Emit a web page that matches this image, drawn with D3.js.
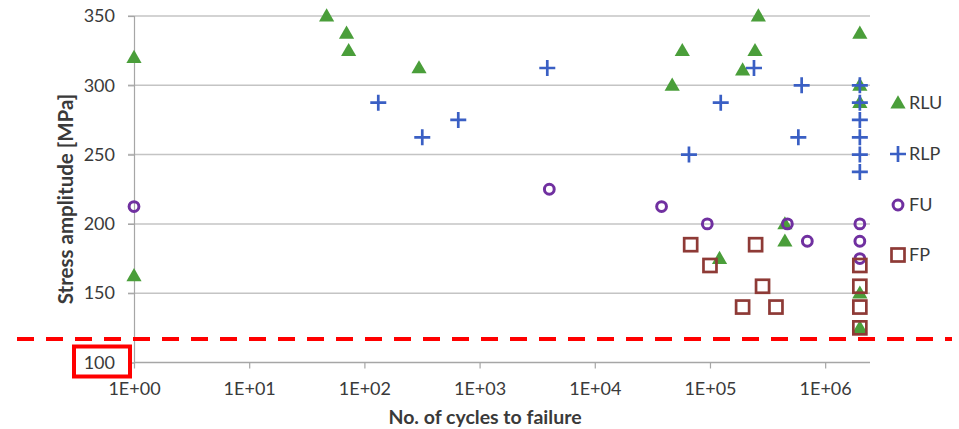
<!DOCTYPE html>
<html>
<head>
<meta charset="utf-8">
<script src="https://cdn.jsdelivr.net/npm/d3@7"></script>
<style>
  body { margin: 0; background: #fff; }
  svg text { font-family: Lato, "Open Sans", sans-serif; fill: #3a3a3a; }
</style>
</head>
<body>
<svg width="959" height="429"></svg>
<script>
// cycles to failure / stress amplitude
var rluCycles = [1, 1, 47, 70, 73, 298, 47000, 57500, 192000, 246000, 263000, 121000,
                 447000, 447000, 2e6, 2e6, 2e6, 2e6, 2e6];
var rluStress = [320, 162.5, 350, 337.5, 325, 312.5, 300, 325, 311, 325, 350, 175,
                 200, 187.5, 337.5, 300, 287.5, 150, 125];

var rlpCycles = [132, 318, 653, 3870, 65700, 124000, 241000, 585000, 625000,
                 2e6, 2e6, 2e6, 2e6, 2e6, 2e6];
var rlpStress = [287.5, 262.5, 275, 312.5, 250, 287.5, 312.5, 262.5, 300,
                 300, 287.5, 275, 262.5, 250, 237.5];

var fuCycles = [1, 4030, 38000, 94800, 470000, 700000, 2e6, 2e6, 2e6];
var fuStress = [212.5, 225, 212.5, 200, 200, 187.5, 200, 187.5, 175];

var fpCycles = [68000, 100000, 192000, 249000, 286000, 374000, 2e6, 2e6, 2e6, 2e6];
var fpStress = [185, 170, 140, 185, 155, 140, 170, 155, 140, 125];

var yTicks = [100, 150, 200, 250, 300, 350];
var xTicks = [1, 10, 100, 1000, 10000, 100000, 1000000];
var seriesNames = ["RLU", "RLP", "FU", "FP"];
var thresholdStress = 117;

var colors = { RLU: "#4a9e3a", RLP: "#3a5fc4", FU: "#7030a0", FP: "#8e3a36" };

var svg = d3.select("svg");

var x = d3.scaleLog().domain([1, 2.45e6]).range([134, 870]);
var y = d3.scaleLinear().domain([100, 350]).range([362.5, 16]);

// horizontal grid
svg.append("g")
  .selectAll("line")
  .data(yTicks.slice(1))
  .enter().append("line")
  .attr("x1", 128).attr("x2", 870)
  .attr("y1", function(d) { return y(d); })
  .attr("y2", function(d) { return y(d); })
  .attr("stroke", "#c4c4c4")
  .attr("stroke-width", 1.5);

// y axis
var yAxis = svg.append("g")
  .attr("transform", "translate(134,0)")
  .call(d3.axisLeft(y).tickValues(yTicks).tickSize(6).tickPadding(13));
yAxis.select(".domain").attr("stroke", "#a6a6a6").attr("stroke-width", 1.2);
yAxis.selectAll(".tick line").attr("stroke", "#a6a6a6").attr("stroke-width", 1.2);
yAxis.selectAll("text").attr("font-size", 18).attr("font-family", "Lato").attr("fill", "#333");

// x axis
var xAxis = svg.append("g")
  .attr("transform", "translate(0," + y(100) + ")")
  .call(d3.axisBottom(x).tickValues(xTicks).tickSize(6).tickPadding(14)
    .tickFormat(function(d) { return "1E+" + d3.format("02d")(Math.round(Math.log10(d))); }));
xAxis.select(".domain").attr("stroke", "#a6a6a6").attr("stroke-width", 1.5)
  .attr("d", "M134,0H870");
xAxis.selectAll(".tick line").attr("stroke", "#a6a6a6").attr("stroke-width", 1.2);
xAxis.selectAll("text").attr("font-size", 18).attr("font-family", "Lato").attr("fill", "#333");

// axis titles
svg.append("text")
  .attr("x", 485).attr("y", 424)
  .attr("text-anchor", "middle")
  .attr("font-weight", "bold")
  .attr("font-size", 19.5)
  .attr("fill", "#262626")
  .text("No. of cycles to failure");

svg.append("text")
  .attr("transform", "translate(73,199) rotate(-90)")
  .attr("text-anchor", "middle")
  .attr("font-weight", "bold")
  .attr("font-size", 20.5)
  .attr("fill", "#262626")
  .text("Stress amplitude [MPa]");

// markers
function drawMarker(g, name, cx, cy) {
  var c = colors[name];
  if (name == "RLU") {
    g.append("path")
      .attr("d", d3.symbol().type(d3.symbolTriangle).size(100)())
      .attr("transform", "translate(" + cx + "," + (cy + 1) + ")")
      .attr("fill", c);
  } else if (name == "RLP") {
    g.append("path")
      .attr("d", "M-8,0H8M0,-8V8")
      .attr("transform", "translate(" + cx + "," + cy + ")")
      .attr("stroke", c).attr("stroke-width", 2.7).attr("fill", "none");
  } else if (name == "FU") {
    g.append("circle")
      .attr("cx", cx).attr("cy", cy).attr("r", 4.9)
      .attr("stroke", c).attr("stroke-width", 3).attr("fill", "none");
  } else {
    g.append("rect")
      .attr("x", cx - 6.5).attr("y", cy - 6.5)
      .attr("width", 13).attr("height", 13)
      .attr("stroke", c).attr("stroke-width", 2.7).attr("fill", "none");
  }
}

var allSeries = [
  { name: "RLU", xs: rluCycles, ys: rluStress },
  { name: "RLP", xs: rlpCycles, ys: rlpStress },
  { name: "FU", xs: fuCycles, ys: fuStress },
  { name: "FP", xs: fpCycles, ys: fpStress }
];

var pts = svg.append("g");
allSeries.forEach(function(s) {
  for (var i = 0; i < s.xs.length; ++i) {
    drawMarker(pts, s.name, x(s.xs[i]), y(s.ys[i]));
  }
});

// legend
var legendY = [103, 154, 205, 255];
var legend = svg.append("g");
seriesNames.forEach(function(name, i) {
  drawMarker(legend, name, 898, legendY[i]);
  legend.append("text")
    .attr("x", 909).attr("y", legendY[i])
    .attr("dy", "0.36em")
    .attr("font-size", 18)
    .attr("fill", "#333")
    .text(name);
});

// red dashed threshold line and box round the 100 label
svg.append("line")
  .attr("x1", 17).attr("x2", 952)
  .attr("y1", y(thresholdStress)).attr("y2", y(thresholdStress))
  .attr("stroke", "#ff0000")
  .attr("stroke-width", 4)
  .attr("stroke-dasharray", "17,12");

svg.append("rect")
  .attr("x", 74).attr("y", y(100) - 16)
  .attr("width", 56).attr("height", 30)
  .attr("fill", "none")
  .attr("stroke", "#ff0000")
  .attr("stroke-width", 4);
</script>
</body>
</html>
